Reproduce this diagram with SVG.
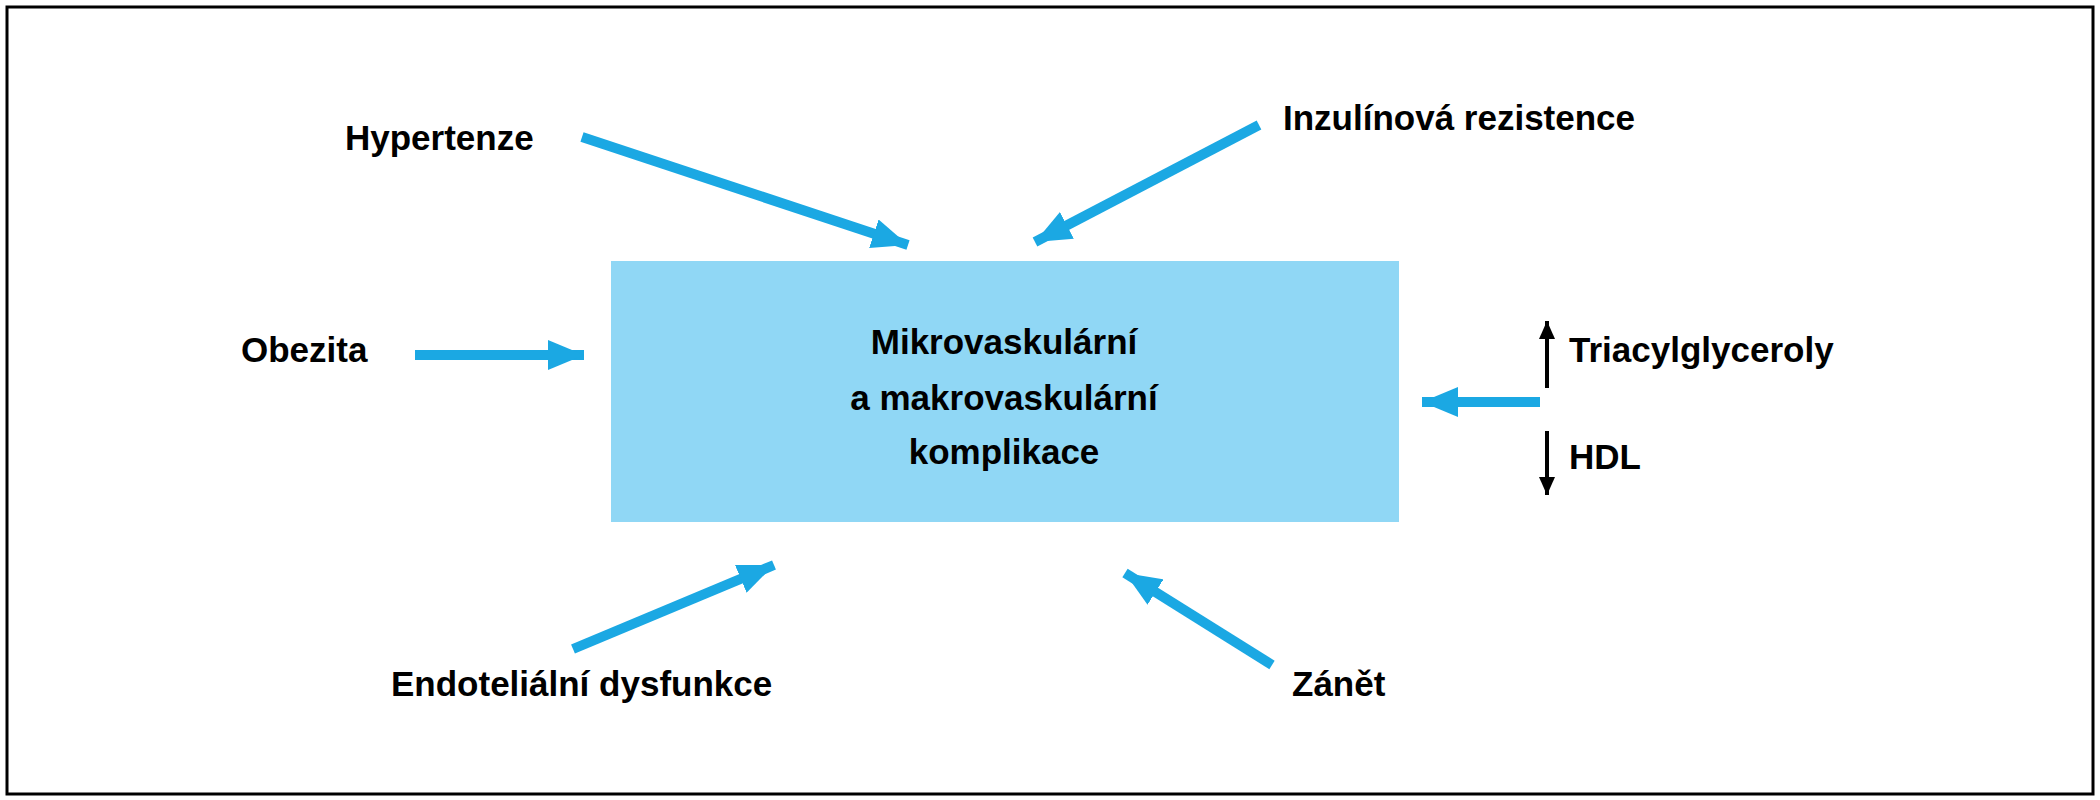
<svg xmlns="http://www.w3.org/2000/svg" width="2100" height="800" viewBox="0 0 2100 800">
<style>
text{font-family:"Liberation Sans",Arial,sans-serif;font-weight:bold;font-size:35px;fill:#000}
.b{stroke:#1BA8E3;stroke-width:10;fill:none}
.k{stroke:#000;stroke-width:4;fill:none}
</style>
<defs>
<marker id="ab" markerUnits="userSpaceOnUse" markerWidth="40" markerHeight="30" refX="36" refY="15" orient="auto"><path d="M0,0 L36,15 L0,30 Z" fill="#1BA8E3"/></marker>
<marker id="ak" markerUnits="userSpaceOnUse" markerWidth="20" markerHeight="20" refX="18" refY="8" orient="auto"><path d="M0,0 L18,8 L0,16 Z" fill="#000"/></marker>
</defs>
<rect x="0" y="0" width="2100" height="800" fill="#fff"/>
<rect x="7" y="7" width="2086" height="787" fill="none" stroke="#000" stroke-width="3"/>
<g id="center"><rect x="611" y="261" width="788" height="261" fill="#90D7F5"/>
<text x="1004" y="354" text-anchor="middle">Mikrovaskulární</text>
<text x="1004" y="410" text-anchor="middle">a makrovaskulární</text>
<text x="1004" y="464" text-anchor="middle">komplikace</text></g>
<g id="hypertenze"><text x="345" y="150">Hypertenze</text></g>
<g id="inzulin"><text x="1283" y="130">Inzulínová rezistence</text></g>
<g id="obezita"><text x="241" y="362">Obezita</text></g>
<g id="lipidy"><text x="1569" y="362">Triacylglyceroly</text><text x="1569" y="469">HDL</text></g>
<g id="endotel"><text x="391" y="696">Endoteliální dysfunkce</text></g>
<g id="zanet"><text x="1292" y="696">Zánět</text></g>
<g id="connectors">
<line class="b" x1="582" y1="137" x2="908" y2="245" marker-end="url(#ab)"/>
<line class="b" x1="1259" y1="125" x2="1035" y2="242" marker-end="url(#ab)"/>
<line class="b" x1="415" y1="355" x2="584" y2="355" marker-end="url(#ab)"/>
<line class="b" x1="1540" y1="402" x2="1422" y2="402" marker-end="url(#ab)"/>
<line class="b" x1="573" y1="649" x2="774" y2="565" marker-end="url(#ab)"/>
<line class="b" x1="1272" y1="665" x2="1125" y2="573" marker-end="url(#ab)"/>
<line class="k" x1="1547" y1="388" x2="1547" y2="321" marker-end="url(#ak)"/>
<line class="k" x1="1547" y1="431" x2="1547" y2="495" marker-end="url(#ak)"/>
</g>
</svg>
